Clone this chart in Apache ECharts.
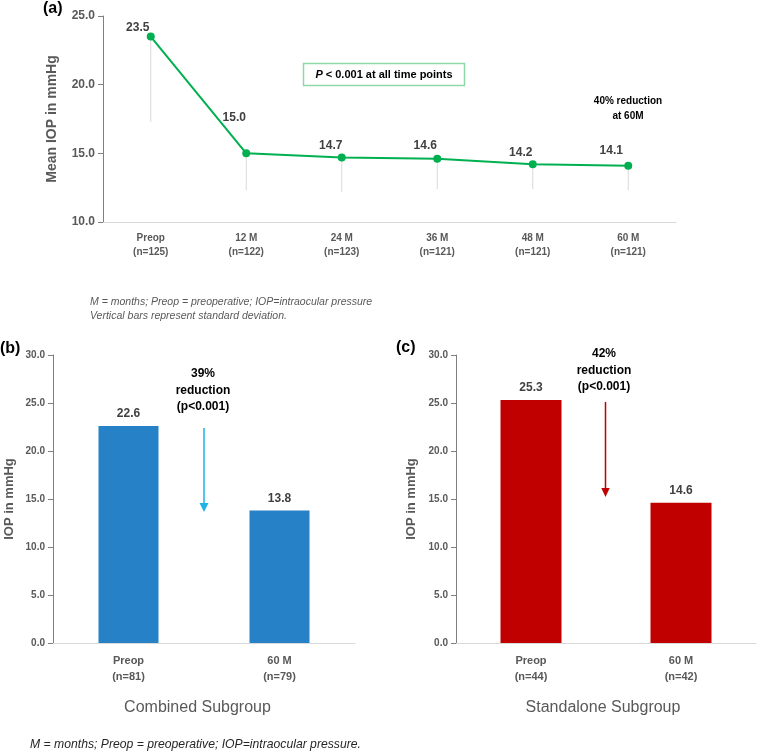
<!DOCTYPE html>
<html>
<head>
<meta charset="utf-8">
<script src="https://cdn.jsdelivr.net/npm/echarts@6/dist/echarts.min.js"></script>
<style>html,body{margin:0;padding:0;background:#fff;}#c{width:757px;height:752px;}</style>
</head>
<body>
<div id="c"></div>
<script>
// ---- data ----
const categoriesA = ['Preop\n(n=125)', '12 M\n(n=122)', '24 M\n(n=123)', '36 M\n(n=121)', '48 M\n(n=121)', '60 M\n(n=121)'];
const meanIOP = [23.5, 15.0, 14.7, 14.6, 14.2, 14.1];
const sdIOP = [6.2, 2.7, 2.5, 2.2, 1.8, 1.8];
const categoriesB = ['Preop\n(n=81)', '60 M\n(n=79)'];
const combinedIOP = [22.6, 13.8];
const categoriesC = ['Preop\n(n=44)', '60 M\n(n=42)'];
const standaloneIOP = [25.3, 14.6];

const FONT = 'Liberation Sans, Arial, sans-serif';
const GRAY = '#595959';
const labelOffsetsA = [[-13, -9], [-12, -36], [-11, -12], [-12, -13], [-12, -12], [-17, -15]];

const chart = echarts.init(document.getElementById('c'), null, {renderer: 'canvas'});

function yAxisCommon(gridIndex, min, max, name, nameGap, fontSize, nameSize) {
  return {
    type: 'value', gridIndex, min, max, interval: 5,
    name, nameLocation: 'middle', nameGap, nameRotate: 90,
    nameTextStyle: {fontFamily: FONT, fontSize: nameSize, fontWeight: 'bold', color: GRAY},
    axisLine: {show: true, lineStyle: {color: '#7f7f7f', width: 1}},
    axisTick: {show: true, length: 5, lineStyle: {color: '#7f7f7f'}},
    splitLine: {show: false},
    axisLabel: {fontFamily: FONT, fontSize, fontWeight: 'bold', color: GRAY, margin: 8,
      formatter: v => v.toFixed(1)}
  };
}
function xAxisCommon(gridIndex, data, fontSize, lineHeight, margin, name, shift) {
  const ax = {
    type: 'category', gridIndex, data, boundaryGap: true,
    axisLine: {show: true, lineStyle: {color: '#d9d9d9', width: 1}},
    axisTick: {show: false},
    axisLabel: {fontFamily: FONT, fontSize, fontWeight: 'bold', color: GRAY, lineHeight, margin, interval: 0}
  };
  if (name) {
    ax.name = name; ax.nameLocation = 'middle'; ax.nameGap = 57;
    ax.nameTextStyle = {fontFamily: FONT, fontSize: 16, color: GRAY, padding: [0, shift, 0, 0]};
  }
  return ax;
}

const option = {
  animation: false,
  backgroundColor: '#fff',
  grid: [
    {left: 103, right: 81, top: 16, bottom: 530},
    {left: 53, right: 402, top: 355, bottom: 109},
    {left: 456, right: 1, top: 355, bottom: 109}
  ],
  xAxis: [
    xAxisCommon(0, categoriesA, 10, 14, 9),
    xAxisCommon(1, categoriesB, 11, 16, 10, 'Combined Subgroup', 13),
    xAxisCommon(2, categoriesC, 11, 16, 10, 'Standalone Subgroup', 6)
  ],
  yAxis: [
    yAxisCommon(0, 10, 25, 'Mean IOP in mmHg', 44, 12, 14),
    yAxisCommon(1, 0, 30, 'IOP in mmHg', 37, 10, 13),
    yAxisCommon(2, 0, 30, 'IOP in mmHg', 38, 10, 13)
  ],
  series: [
    {
      type: 'custom', xAxisIndex: 0, yAxisIndex: 0, z: 1,
      data: meanIOP.map((m, i) => [i, m, m - sdIOP[i]]),
      renderItem: function (params, api) {
        const p1 = api.coord([api.value(0), api.value(1)]);
        const p2 = api.coord([api.value(0), api.value(2)]);
        return {type: 'line', shape: {x1: p1[0], y1: p1[1], x2: p2[0], y2: p2[1]},
          style: {stroke: '#d9d9d9', lineWidth: 1}};
      },
      silent: true
    },
    {
      type: 'line', xAxisIndex: 0, yAxisIndex: 0, z: 3,
      data: meanIOP.map((v, i) => ({value: v, label: {offset: labelOffsetsA[i]}})),
      symbol: 'circle', symbolSize: 8,
      lineStyle: {color: '#00b050', width: 2},
      itemStyle: {color: '#00b050'},
      label: {show: true, position: 'inside', fontFamily: FONT, fontSize: 12, fontWeight: 'bold', color: '#404040',
        formatter: p => p.value.toFixed(1)}
    },
    {
      type: 'bar', xAxisIndex: 1, yAxisIndex: 1, barWidth: 60,
      data: combinedIOP, itemStyle: {color: '#2681c6'},
      label: {show: true, position: 'top', distance: 6, fontFamily: FONT, fontSize: 12, fontWeight: 'bold', color: '#404040',
        formatter: p => p.value.toFixed(1)}
    },
    {
      type: 'bar', xAxisIndex: 2, yAxisIndex: 2, barWidth: 61,
      data: standaloneIOP, itemStyle: {color: '#c00000'},
      label: {show: true, position: 'top', distance: 6, fontFamily: FONT, fontSize: 12, fontWeight: 'bold', color: '#404040',
        formatter: p => p.value.toFixed(1)}
    }
  ],
  graphic: [
    {type: 'text', left: 43, top: 1, style: {text: '(a)', font: 'bold 16px ' + FONT, fill: '#000'}},
    {type: 'text', left: 0, top: 341, style: {text: '(b)', font: 'bold 16px ' + FONT, fill: '#000'}},
    {type: 'text', left: 396, top: 340, style: {text: '(c)', font: 'bold 16px ' + FONT, fill: '#000'}},
    {type: 'rect', shape: {x: 303.5, y: 63.5, width: 161, height: 22},
      style: {fill: '#fff', stroke: '#8fd9a8', lineWidth: 1.5}},
    {type: 'text', x: 384, y: 74.5, style: {
      text: '{i|P} < 0.001 at all time points', align: 'center', verticalAlign: 'middle',
      font: 'bold 11px ' + FONT, fill: '#000',
      rich: {i: {font: 'italic bold 11px ' + FONT, fill: '#000'}}}},
    {type: 'text', x: 628, y: 109, style: {text: '40% reduction\nat 60M', align: 'center', verticalAlign: 'middle',
      font: 'bold 10px ' + FONT, fill: '#000', lineHeight: 15}},
    {type: 'text', x: 90, y: 309, style: {text: 'M = months; Preop = preoperative; IOP=intraocular pressure\nVertical bars represent standard deviation.',
      verticalAlign: 'middle', font: 'italic 10.5px ' + FONT, fill: GRAY, lineHeight: 14}},
    {type: 'text', x: 30, y: 745, style: {text: 'M = months; Preop = preoperative; IOP=intraocular pressure.',
      verticalAlign: 'middle', font: 'italic 12.2px ' + FONT, fill: '#262626'}},
    // arrow b
    {type: 'text', x: 203, y: 390.5, style: {text: '39%\nreduction\n(p<0.001)', align: 'center', verticalAlign: 'middle',
      font: 'bold 12px ' + FONT, fill: '#000', lineHeight: 16.5}},
    {type: 'line', shape: {x1: 204, y1: 428, x2: 204, y2: 504}, style: {stroke: '#1fb1e8', lineWidth: 1.5}},
    {type: 'polygon', shape: {points: [[199.5, 503], [208.5, 503], [204, 512]]}, style: {fill: '#1fb1e8'}},
    // arrow c
    {type: 'text', x: 604, y: 370.5, style: {text: '42%\nreduction\n(p<0.001)', align: 'center', verticalAlign: 'middle',
      font: 'bold 12px ' + FONT, fill: '#000', lineHeight: 16.5}},
    {type: 'line', shape: {x1: 605.5, y1: 402, x2: 605.5, y2: 489}, style: {stroke: '#c00000', lineWidth: 1.5}},
    {type: 'polygon', shape: {points: [[601.3, 488], [609.7, 488], [605.5, 497]]}, style: {fill: '#c00000'}}
  ]
};
chart.setOption(option);
</script>
</body>
</html>
